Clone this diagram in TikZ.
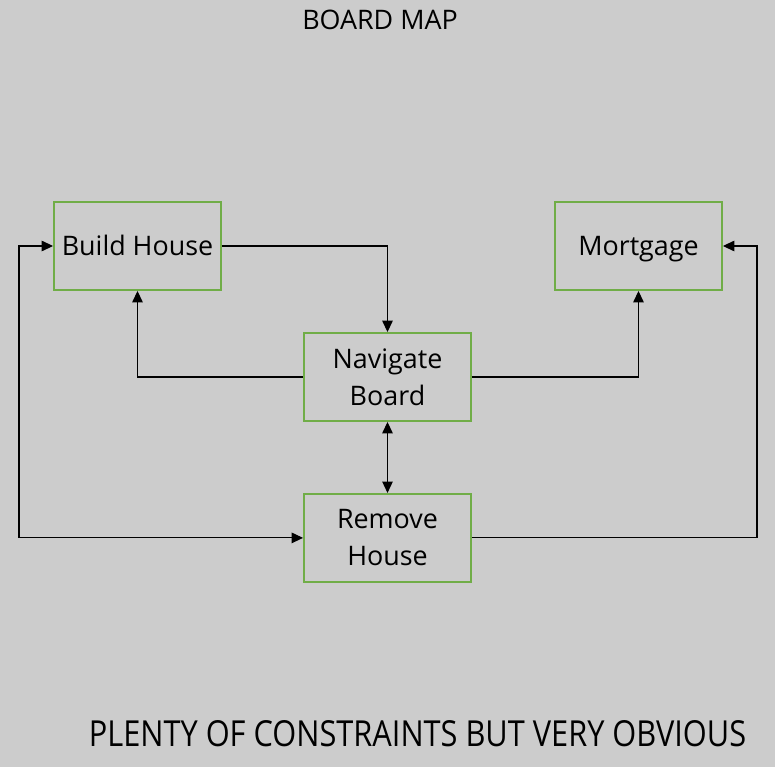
\documentclass[tikz,border=0pt]{standalone}
\usepackage{fontspec}
\setmainfont{Open Sans}
\usepackage{tikz}
\usetikzlibrary{arrows.meta, positioning}
\definecolor{boardgray}{RGB}{204, 204, 204}
\definecolor{boxgreen}{RGB}{112, 173, 71}

\begin{document}
\begin{tikzpicture}[
    x=0.02cm, y=-0.02cm,
    task/.style={draw=boxgreen, line width=1.1pt, minimum width=3.34cm,
                 minimum height=1.76cm, align=center,
                 font=\fontsize{15.3}{21}\selectfont},
    oneline/.style={text height=1.35em, text depth=0.24em},
    link/.style={draw=black, line width=0.6pt,
                 -{Triangle[length=6.5pt, width=6pt]}},
    twoway/.style={link, {Triangle[length=6.5pt, width=6pt]}-{Triangle[length=6.5pt, width=6pt]}},
]
    % background page
    \fill[boardgray] (0,0) rectangle (775,767);
    \useasboundingbox (0,0) rectangle (775,767);

    \node[font=\fontsize{15.3}{18}\selectfont] (title) at (380,20) {BOARD MAP};

    \node[task, oneline] (build) at (137.5,246) {Build House};
    \node[task, oneline] (mortgage) at (638.5,246) {Mortgage};
    \node[task] (navigate) at (387.5,377) {Navigate\\Board};
    \node[task, below=1.42cm of navigate] (remove) {Remove\\House};

    % side rails for the outer loops
    \coordinate (leftrail) at (19,400);
    \coordinate (rightrail) at (757,400);

    \draw[link] (build.east) -| (navigate.north);
    \draw[link] (navigate.west) -| (build.south);
    \draw[link] (navigate.east) -| (mortgage.south);
    \draw[twoway] (navigate.south) -- (remove.north);
    \draw[twoway] (build.west) -| (leftrail) |- (remove.west);
    \draw[link] (remove.east) -| (rightrail) |- (mortgage.east);

    \node[font=\fontsize{20.4}{24}\selectfont] (note) at (417.5,734)
        {\scalebox{0.858}[1]{PLENTY OF CONSTRAINTS BUT VERY OBVIOUS}};
\end{tikzpicture}
\end{document}
